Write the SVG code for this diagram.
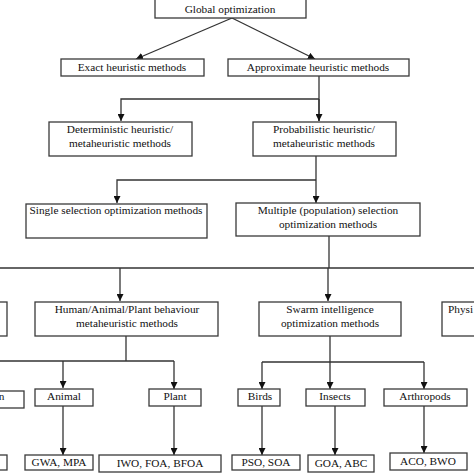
<svg xmlns="http://www.w3.org/2000/svg" width="474" height="474" viewBox="0 0 474 474">
<style>
.box{fill:#fff;stroke:#3a3a3a;stroke-width:1.3}
.t{font-family:"Liberation Serif","Times New Roman",serif;font-size:11.3px;fill:#111;text-anchor:middle}
.c{fill:none;stroke:#333;stroke-width:1.3}
</style>
<defs>
<marker id="ah" viewBox="0 0 10 10" refX="10" refY="5" markerWidth="7" markerHeight="7" markerUnits="userSpaceOnUse" orient="auto">
<path d="M0,0 L10,5 L0,10 z" fill="#111"/>
</marker>
</defs>
<rect width="474" height="474" fill="#fff"/>
<g id="connectors">
<line class="c" x1="232" y1="18" x2="136" y2="59" marker-end="url(#ah)"/>
<line class="c" x1="232" y1="18" x2="315" y2="59" marker-end="url(#ah)"/>
<path class="c" d="M319,76 V121"/>
<path class="c" d="M319,99 H121 V121" marker-end="url(#ah)"/>
<path class="c" d="M319,99 V121" marker-end="url(#ah)"/>
<path class="c" d="M316,156 V203" marker-end="url(#ah)"/>
<path class="c" d="M316,180 H117 V203" marker-end="url(#ah)"/>
<path class="c" d="M329,236 V268"/>
<path class="c" d="M0,268 H474"/>
<path class="c" d="M120,268 V301" marker-end="url(#ah)"/>
<path class="c" d="M328,268 V301" marker-end="url(#ah)"/>
<path class="c" d="M126,336 V361"/>
<path class="c" d="M0,361 H174"/>
<path class="c" d="M63,361 V388" marker-end="url(#ah)"/>
<path class="c" d="M174,361 V389" marker-end="url(#ah)"/>
<path class="c" d="M330,336 V362"/>
<path class="c" d="M262,362 H424"/>
<path class="c" d="M262,362 V389" marker-end="url(#ah)"/>
<path class="c" d="M330,362 V389" marker-end="url(#ah)"/>
<path class="c" d="M424,362 V389" marker-end="url(#ah)"/>
<path class="c" d="M63,406 V455" marker-end="url(#ah)"/>
<path class="c" d="M174,406 V455" marker-end="url(#ah)"/>
<path class="c" d="M262,406 V455" marker-end="url(#ah)"/>
<path class="c" d="M335,406 V455" marker-end="url(#ah)"/>
<path class="c" d="M424,406 V453" marker-end="url(#ah)"/>
</g>
<g id="n-global"><rect class="box" x="155" y="-1" width="151" height="19"/><text class="t" x="230" y="13">Global  optimization</text></g>
<g id="n-exact"><rect class="box" x="61" y="59" width="143" height="17"/><text class="t" x="132" y="71">Exact heuristic  methods</text></g>
<g id="n-approx"><rect class="box" x="228" y="59" width="181" height="17"/><text class="t" x="318" y="71">Approximate  heuristic  methods</text></g>
<g id="n-determ"><rect class="box" x="49" y="122" width="143" height="34"/><text class="t" x="120" y="133">Deterministic  heuristic/</text><text class="t" x="120" y="147">metaheuristic methods</text></g>
<g id="n-prob"><rect class="box" x="253" y="122" width="143" height="34"/><text class="t" x="324" y="133">Probabilistic  heuristic/</text><text class="t" x="324" y="147">metaheuristic methods</text></g>
<g id="n-single"><rect class="box" x="26" y="204" width="181" height="34"/><text class="t" x="116" y="214">Single  selection optimization   methods</text></g>
<g id="n-multiple"><rect class="box" x="236" y="203" width="184" height="33"/><text class="t" x="328" y="214">Multiple  (population)  selection</text><text class="t" x="328" y="228">optimization   methods</text></g>
<g id="n-left1"><rect class="box" x="-10" y="302" width="17" height="34"/></g>
<g id="n-human"><rect class="box" x="35" y="302" width="183" height="34"/><text class="t" x="127" y="313">Human/Animal/Plant  behaviour</text><text class="t" x="127" y="327">metaheuristic methods</text></g>
<g id="n-swarm"><rect class="box" x="259" y="302" width="142" height="34"/><text class="t" x="330" y="313">Swarm intelligence</text><text class="t" x="330" y="327">optimization   methods</text></g>
<g id="n-physi"><rect class="box" x="442" y="302" width="40" height="34"/><text class="t" x="448" y="313" style="text-anchor:start">Physi</text></g>
<g id="n-left2"><rect class="box" x="-10" y="391" width="34" height="17"/><text class="t" x="4.5" y="400" style="text-anchor:end">n</text></g>
<g id="n-animal"><rect class="box" x="35" y="389" width="58" height="17"/><text class="t" x="64" y="400">Animal</text></g>
<g id="n-plant"><rect class="box" x="149" y="389" width="52" height="17"/><text class="t" x="175" y="400">Plant</text></g>
<g id="n-birds"><rect class="box" x="238" y="389" width="42" height="17"/><text class="t" x="260" y="400">Birds</text></g>
<g id="n-insects"><rect class="box" x="306" y="389" width="59" height="17"/><text class="t" x="335" y="400">Insects</text></g>
<g id="n-arthro"><rect class="box" x="384" y="389" width="83" height="17"/><text class="t" x="425" y="400">Arthropods</text></g>
<g id="n-left3"><rect class="box" x="-10" y="455" width="17" height="15"/></g>
<g id="n-gwa"><rect class="box" x="25" y="455" width="68" height="15"/><text class="t" x="59" y="466">GWA, MPA</text></g>
<g id="n-iwo"><rect class="box" x="99" y="455" width="122" height="17"/><text class="t" x="160" y="467">IWO, FOA, BFOA</text></g>
<g id="n-pso"><rect class="box" x="232" y="455" width="68" height="15"/><text class="t" x="266" y="466">PSO, SOA</text></g>
<g id="n-goa"><rect class="box" x="308" y="455" width="66" height="17"/><text class="t" x="341" y="467">GOA, ABC</text></g>
<g id="n-aco"><rect class="box" x="390" y="453" width="77" height="17"/><text class="t" x="428" y="465">ACO, BWO</text></g>
</svg>
